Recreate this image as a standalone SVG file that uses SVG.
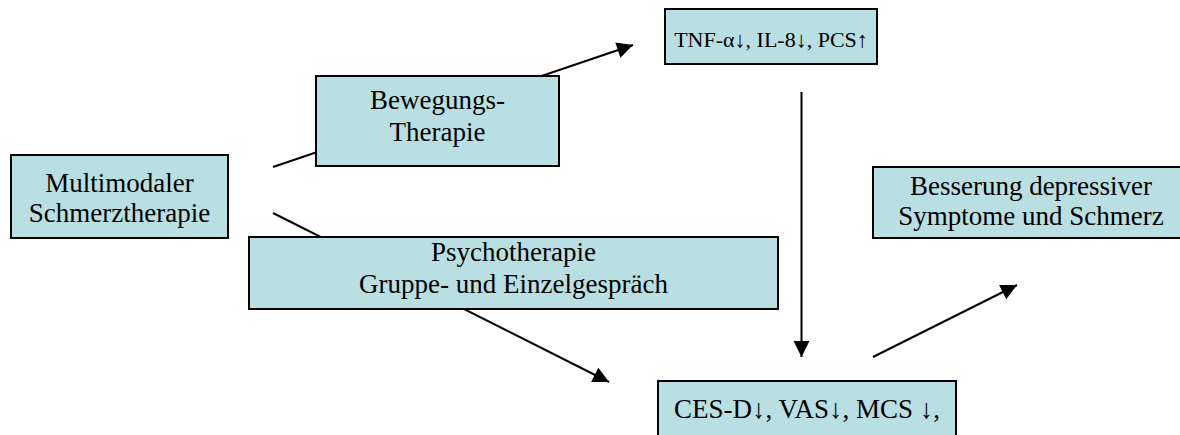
<svg xmlns="http://www.w3.org/2000/svg" width="1180" height="435" viewBox="0 0 1180 435">
<style>
.box{fill:#B9DFE2;stroke:#000;stroke-width:2}
.t{font-family:"Liberation Serif","Times New Roman",serif;font-size:27px;fill:#000;text-anchor:middle}
.s{font-size:22px}
.c{stroke:#000;stroke-width:2;fill:none;marker-end:url(#ah)}
</style>
<defs>
<marker id="ah" markerUnits="userSpaceOnUse" markerWidth="20" markerHeight="20" viewBox="0 0 20 20" refX="18" refY="10" orient="auto">
<path d="M2,2 L18,10 L2,18 Z" fill="#000"/>
</marker>
</defs>
<rect width="1180" height="435" fill="#fff"/>
<g id="connectors">
<line class="c" x1="273" y1="167" x2="633" y2="45"/>
<line class="c" x1="273" y1="213" x2="609" y2="382"/>
<line class="c" x1="801.5" y1="92" x2="801.5" y2="357"/>
<line class="c" x1="873" y1="357" x2="1017" y2="285"/>
</g>
<g id="multimodal">
<rect class="box" x="11" y="155" width="217" height="83"/>
<text class="t" x="119.5" y="192">Multimodaler</text>
<text class="t" x="119.5" y="222">Schmerztherapie</text>
</g>
<g id="bewegung">
<rect class="box" x="316" y="76" width="243" height="90"/>
<text class="t" x="437.5" y="109">Bewegungs-</text>
<text class="t" x="437.5" y="141">Therapie</text>
</g>
<g id="tnf">
<rect class="box" x="665" y="9" width="212" height="55"/>
<text class="t s" x="771" y="47">TNF-α↓, IL-8↓, PCS↑</text>
</g>
<g id="psycho">
<rect class="box" x="249" y="237" width="529" height="72"/>
<text class="t" x="513.5" y="261">Psychotherapie</text>
<text class="t" x="513.5" y="293">Gruppe- und Einzelgespräch</text>
</g>
<g id="ces">
<rect class="box" x="658" y="381" width="298" height="70"/>
<text class="t" x="807" y="418">CES-D↓, VAS↓, MCS ↓,</text>
</g>
<g id="besserung">
<rect class="box" x="873" y="167" width="320" height="71"/>
<text class="t" x="1031" y="195">Besserung depressiver</text>
<text class="t" x="1031" y="225">Symptome und Schmerz</text>
</g>
</svg>
